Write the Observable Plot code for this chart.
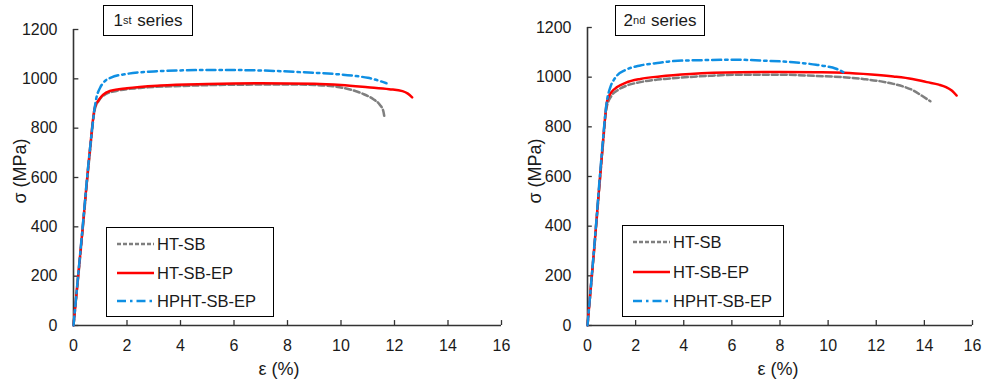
<!DOCTYPE html>
<html><head><meta charset="utf-8">
<script src="https://cdn.jsdelivr.net/npm/d3@7"></script>
<script src="https://cdn.jsdelivr.net/npm/@observablehq/plot@0.6"></script>
<style>
body{margin:0;background:#fff;font-family:"Liberation Sans",Arial,sans-serif;color:#1a1a1a;}
#wrap{position:relative;width:987px;height:382px;overflow:hidden;background:#fff;}
.panel{position:absolute;top:0;}
.panel text{font-size:16px !important;font-family:"Liberation Sans",Arial,sans-serif !important;fill:#1a1a1a;}
.title{position:absolute;box-sizing:border-box;border:1.3px solid #000;font-size:17px;display:flex;align-items:center;justify-content:center;background:#fff;}
.title sup{font-size:11px;position:relative;top:-1px;margin-right:1px;}
.legend{position:absolute;box-sizing:border-box;border:1.3px solid #000;background:#fff;font-size:16.5px;}
.row{position:absolute;left:0;height:20px;display:flex;align-items:center;transform:translateY(-50%);}
.row svg{margin-left:10px;margin-right:3px;}
.xl{position:absolute;font-size:18px;transform:translate(-50%,-50%);white-space:nowrap;}
.yl{position:absolute;font-size:18px;transform:translate(-50%,-50%) rotate(-90deg);white-space:nowrap;}
</style></head>
<body><div id="wrap"></div>
<script>
// ---- data ----
const xTicks = [0, 2, 4, 6, 8, 10, 12, 14, 16];
const yTicks = [0, 200, 400, 600, 800, 1000, 1200];
const seriesNames = ["HT-SB", "HT-SB-EP", "HPHT-SB-EP"];

// 1st series [strain %, stress MPa]
const s1_HT_SB = [[0,0],[0.3,338],[0.6,688],[0.8,878],[0.95,912],[1.2,938],[1.6,951],[2.5,963],[4,971],[6,976],[8,977],[9,975],[9.7,970],[10.3,958],[10.8,940],[11.2,918],[11.45,895],[11.58,870],[11.62,847]];
const s1_HT_SB_EP = [[0,0],[0.3,345],[0.6,697],[0.8,885],[0.95,915],[1.1,935],[1.4,952],[2,962],[3.25,973],[5,979],[7,982],[9,980],[10,975],[11,966],[11.8,958],[12.3,950],[12.5,940],[12.66,925]];
const s1_HPHT_SB_EP = [[0,0],[0.3,350],[0.6,700],[0.85,920],[1.0,965],[1.13,986],[1.4,1005],[2,1020],[3,1030],[3.9,1034],[5.5,1036],[7,1034],[8.5,1027],[9.7,1020],[10.5,1012],[11,1004],[11.4,993],[11.7,982]];

// 2nd series
const s2_HT_SB = [[0,0],[0.3,330],[0.6,680],[0.8,880],[1.0,925],[1.23,946],[1.6,965],[2.2,980],[3.5,995],[5,1005],[6.35,1010],[8,1010],[9.5,1005],[10.64,1000],[11.5,992],[12.2,983],[12.71,973],[13.2,960],[13.55,946],[13.9,925],[14.25,903]];
const s2_HT_SB_EP = [[0,0],[0.3,335],[0.6,690],[0.82,906],[1.0,940],[1.23,960],[1.6,978],[2.2,993],[3,1003],[4.27,1013],[6.35,1020],[8,1021],[9.5,1020],[10.64,1018],[11.8,1011],[12.71,1003],[13.5,993],[14.1,980],[14.6,970],[14.9,960],[15.15,945],[15.34,926]];
const s2_HPHT_SB_EP = [[0,0],[0.3,340],[0.6,700],[0.8,900],[0.95,960],[1.1,990],[1.23,1007],[1.6,1030],[2.2,1047],[3,1058],[3.58,1065],[5,1069],[6.35,1070],[7.18,1067],[8.56,1060],[9.5,1050],[9.95,1043],[10.3,1035],[10.64,1020]];

const colors = ["#7f7f7f", "#ff0000", "#0f8fe3"];
const dashes = ["6,3", null, "9,4,2.5,4"];

function panel(seriesList, width, ml, mr, mt) {
  const lines = seriesList.map((data, i) => Plot.line(data, {
    x: d => d[0], y: d => d[1], stroke: colors[i], strokeWidth: 2.5,
    strokeDasharray: dashes[i], curve: "monotone-x"
  }));
  return Plot.plot({
    width, height: 382, marginLeft: ml, marginRight: mr, marginTop: mt, marginBottom: 57,
    style: {fontFamily: "Liberation Sans, Arial, sans-serif", fontSize: "16px", color: "#1a1a1a", background: "transparent", overflow: "visible"},
    x: {domain: [0, 16]},
    y: {domain: [0, 1200]},
    marks: [
      Plot.axisX(xTicks, {tickSize: 0, tickPadding: 14, label: null, fontSize: 16, tickFormat: d => String(d)}),
      Plot.axisY(yTicks, {tickSize: 0, tickPadding: 16, label: null, fontSize: 16, tickFormat: d => String(d)}),
      Plot.ruleX(xTicks, {y1: 0, y2: 20, stroke: "#333", strokeWidth: 1.3}),
      Plot.ruleY(yTicks, {x1: 0, x2: 0.2, stroke: "#333", strokeWidth: 1.3}),
      Plot.ruleY([0], {x1: 0, x2: 16, stroke: "#333", strokeWidth: 1.6}),
      Plot.ruleX([0], {y1: 0, y2: 1200, stroke: "#333", strokeWidth: 1.6}),
      ...lines
    ]
  });
}

const wrap = document.getElementById("wrap");
function place(el, left) { el.classList.add("panel"); el.style.left = left + "px"; wrap.appendChild(el); }
place(panel([s1_HT_SB, s1_HT_SB_EP, s1_HPHT_SB_EP], 520, 73, 19, 29), 0);
place(panel([s2_HT_SB, s2_HT_SB_EP, s2_HPHT_SB_EP], 487, 87, 15, 27), 500);

function div(cls, html, style) {
  const d = document.createElement("div"); d.className = cls; d.innerHTML = html;
  Object.assign(d.style, style); wrap.appendChild(d); return d;
}
div("title", "1<sup>st</sup>&nbsp;series", {left: "103px", top: "5px", width: "90px", height: "31px"});
div("title", "2<sup>nd</sup>&nbsp;series", {left: "615px", top: "5px", width: "90px", height: "31px"});
div("xl", "ε (%)", {left: "279px", top: "369px"});
div("xl", "ε (%)", {left: "778px", top: "369px"});
div("yl", "σ (MPa)", {left: "20px", top: "171px"});
div("yl", "σ (MPa)", {left: "535px", top: "171px"});

function legend(left, top, width, height, rows) {
  const box = div("legend", "", {left: left + "px", top: top + "px", width: width + "px", height: height + "px"});
  seriesNames.forEach((name, i) => {
    const r = document.createElement("div"); r.className = "row"; r.style.top = rows[i] + "px";
    r.innerHTML = `<svg width="37" height="6"><line x1="0" y1="3" x2="37" y2="3" stroke="${colors[i]}" stroke-width="2.5" ${dashes[i] ? `stroke-dasharray="${i === 0 ? '4,2' : dashes[i]}"` : ""}/></svg><span>${name}</span>`;
    box.appendChild(r);
  });
}
legend(106, 227, 168, 90, [16, 45, 73]);
legend(622, 225, 162, 92, [16, 46, 75]);
</script></body></html>
